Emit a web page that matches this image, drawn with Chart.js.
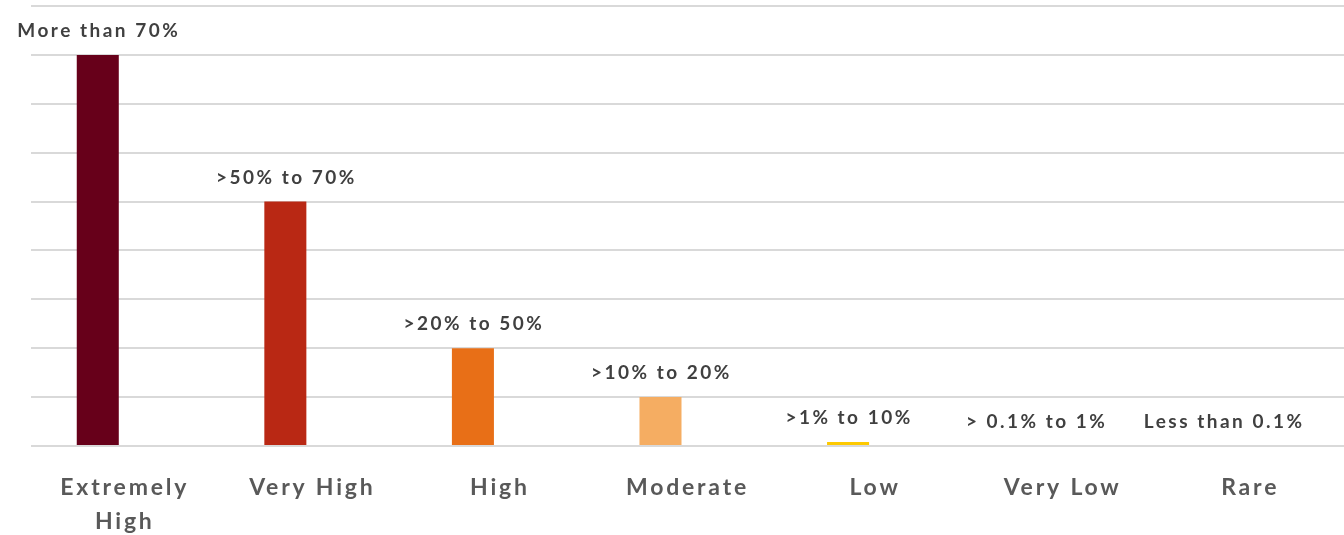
<!DOCTYPE html>
<html>
<head>
<meta charset="utf-8">
<script src="https://cdn.jsdelivr.net/npm/chart.js@4"></script>
<style>
  html, body { margin: 0; padding: 0; background: #fff; }
  #wrap { width: 1344px; height: 535px; }
</style>
</head>
<body>
<div id="wrap"><canvas id="chart"></canvas></div>
<script>
// categories and values (grid units)
const categories = [["Extremely", "High"], "Very High", "High", "Moderate", "Low", "Very Low", "Rare"];
const values = [8, 5, 2, 1, 0.08, 0, 0];
const rangeLabels = ["More than 70%", ">50% to 70%", ">20% to 50%", ">10% to 20%", ">1% to 10%", "> 0.1% to 1%", "Less than 0.1%"];
const barColors = ["#67001a", "#b92814", "#e86f17", "#f5ad62", "#fdc900", "#fde58a", "#fff2c4"];

// labels above each bar
const rangeLabelPlugin = {
  id: "rangeLabels",
  afterDatasetsDraw(chart) {
    const ctx = chart.ctx;
    const meta = chart.getDatasetMeta(0);
    ctx.save();
    ctx.font = "bold 19px Lato";
    ctx.letterSpacing = "2.5px";
    ctx.fillStyle = "#404040";
    ctx.textAlign = "center";
    ctx.textBaseline = "alphabetic";
    meta.data.forEach((bar, i) => {
      ctx.fillText(rangeLabels[i], bar.x + 1, bar.y - 18);
    });
    ctx.restore();
  }
};

// wider letters on the axis labels
const spacingPlugin = {
  id: "spacing",
  beforeDraw(chart) { chart.ctx.letterSpacing = "2.8px"; },
  beforeDatasetsDraw(chart) { chart.ctx.letterSpacing = "0px"; }
};

new Chart(document.getElementById("chart"), {
  type: "bar",
  data: {
    labels: categories,
    datasets: [
      { data: values, backgroundColor: barColors },
      { data: values.map(() => null) }
    ]
  },
  options: {
    responsive: true,
    maintainAspectRatio: false,
    animation: false,
    categoryPercentage: 0.576,
    barPercentage: 0.778,
    layout: { padding: { left: 31, top: 6, right: 0, bottom: 0 } },
    plugins: {
      legend: { display: false },
      tooltip: { enabled: false }
    },
    scales: {
      x: {
        grid: { display: false, drawTicks: false },
        border: { display: false },
        ticks: {
          color: "#595959",
          font: { family: "Lato", size: 23, weight: "bold", lineHeight: 1.5 },
          padding: 24,
          maxRotation: 0
        },
        afterFit(scale) { scale.height = 89; }
      },
      y: {
        min: 0,
        max: 9,
        ticks: { display: false, stepSize: 1 },
        grid: { color: "#d9d9d9", lineWidth: 2, drawTicks: false },
        border: { display: false },
        afterFit(scale) { scale.width = 0; }
      }
    }
  },
  plugins: [rangeLabelPlugin, spacingPlugin]
});
</script>
</body>
</html>
